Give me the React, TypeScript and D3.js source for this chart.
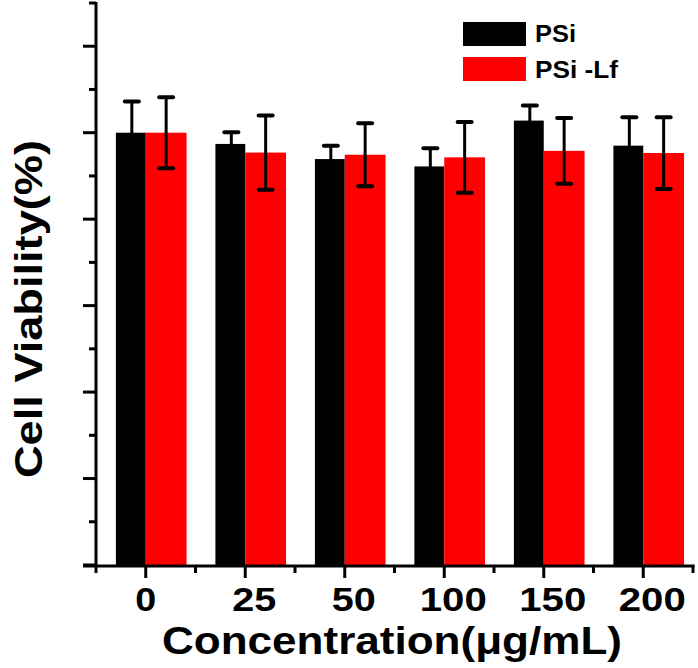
import React from "react";
import * as d3 from "d3";

const categories = ["0", "25", "50", "100", "150", "200"];
const psi = [100, 97.4, 93.9, 92.2, 102.8, 97.0];
const psiErr = [7.2, 2.7, 3.1, 4.2, 3.5, 6.6];
const psiLf = [100, 95.4, 94.9, 94.3, 95.8, 95.3];
const psiLfErr = [8.2, 8.6, 7.3, 8.2, 7.6, 8.3];
const yMajorTicks = [0, 20, 40, 60, 80, 100, 120];
const yMinorTicks = [10, 30, 50, 70, 90, 110, 130];
const seriesNames = ["PSi", "PSi -Lf"];
const xTitle = "Concentration(\u03bcg/mL)";
const yTitle = "Cell Viability(%)";

const W = 698;
const H = 668;
const FONT = "'Liberation Sans', Arial, sans-serif";

export default function App() {
  const x = d3.scaleLinear().domain([0.5, 6.5]).range([96, 693]);
  const y = d3.scaleLinear().domain([0, 130]).range([565, 3]);
  const unit = x(1) - x(0);
  const blackW = 0.30 * unit;
  const redW = 0.41 * unit;
  const capW = 14;
  const sw = 3;

  const minorX = d3.range(0, 7).map((i) => i + 0.5);

  const errBar = (cx: number, v: number, e: number, key: string) => (
    <g key={key} stroke="#000" strokeWidth={sw}>
      <line x1={cx} x2={cx} y1={y(v + e)} y2={y(v - e)} />
      <line x1={cx - capW / 2} x2={cx + capW / 2} y1={y(v + e)} y2={y(v + e)} strokeWidth={4} strokeLinecap="round" />
      <line x1={cx - capW / 2} x2={cx + capW / 2} y1={y(v - e)} y2={y(v - e)} strokeWidth={4} strokeLinecap="round" />
    </g>
  );

  return (
    <svg
      width={W}
      height={H}
      style={{ position: "absolute", left: 0, top: 0, background: "#fff" }}
      fontFamily={FONT}
    >
      {/* bars */}
      {categories.map((c, i) => {
        const cx = x(i + 1);
        return (
          <g key={c}>
            <rect x={cx - blackW} y={y(psi[i])} width={blackW} height={y(0) - y(psi[i])} fill="#000" />
            <rect x={cx} y={y(psiLf[i])} width={redW} height={y(0) - y(psiLf[i])} fill="#ff0000" />
          </g>
        );
      })}
      {/* error bars */}
      {categories.map((c, i) => {
        const cx = x(i + 1);
        return (
          <g key={"e" + c}>
            {errBar(cx - blackW / 2 + 1, psi[i], psiErr[i], "b")}
            {errBar(cx + redW / 2, psiLf[i], psiLfErr[i], "r")}
          </g>
        );
      })}
      {/* y axis */}
      <g stroke="#000" strokeWidth={sw}>
        <line x1={x(0.5)} x2={x(0.5)} y1={y(130) - 1} y2={y(0) + 1.5} />
        {yMajorTicks.map((t) => (
          <line key={"ym" + t} x1={x(0.5) - 13} x2={x(0.5)} y1={y(t)} y2={y(t)} />
        ))}
        {yMinorTicks.map((t) => (
          <line key={"yn" + t} x1={x(0.5) - 7} x2={x(0.5)} y1={y(t)} y2={y(t)} />
        ))}
      </g>
      {/* x axis */}
      <g stroke="#000" strokeWidth={sw}>
        <line x1={x(0.5) - 13} x2={x(6.5) + 1.5} y1={y(0) + 1} y2={y(0) + 1} />
        {categories.map((c, i) => (
          <line key={"xm" + c} x1={x(i + 1)} x2={x(i + 1)} y1={y(0)} y2={y(0) + 13} />
        ))}
        {minorX.map((t) => (
          <line key={"xn" + t} x1={x(t)} x2={x(t)} y1={y(0)} y2={y(0) + 8} />
        ))}
      </g>
      {/* x tick labels */}
      {categories.map((c, i) => (
        <text
          key={"xl" + c}
          x={x(i + 1) + (i === 0 ? 0 : 9)}
          y={611}
          textAnchor="middle"
          fontSize={33}
          fontWeight="bold"
          textLength={c.length * 23 - 2}
          lengthAdjust="spacingAndGlyphs"
        >
          {c}
        </text>
      ))}
      {/* x title */}
      <text
        x={392}
        y={654}
        textAnchor="middle"
        fontSize={38}
        fontWeight="bold"
        textLength={460}
        lengthAdjust="spacingAndGlyphs"
      >
        {xTitle}
      </text>
      {/* y title */}
      <text
        transform={`translate(42,309) rotate(-90)`}
        textAnchor="middle"
        fontSize={38}
        fontWeight="bold"
        textLength={338}
        lengthAdjust="spacingAndGlyphs"
      >
        {yTitle}
      </text>
      {/* legend */}
      <g>
        <rect x={463} y={22} width={63} height={24} fill="#000" />
        <rect x={463} y={57} width={63} height={24} fill="#ff0000" />
        <text x={535} y={42} fontSize={23} fontWeight="bold" textLength={41} lengthAdjust="spacingAndGlyphs">
          {seriesNames[0]}
        </text>
        <text x={535} y={78} fontSize={23} fontWeight="bold" textLength={83} lengthAdjust="spacingAndGlyphs">
          {seriesNames[1]}
        </text>
      </g>
    </svg>
  );
}
